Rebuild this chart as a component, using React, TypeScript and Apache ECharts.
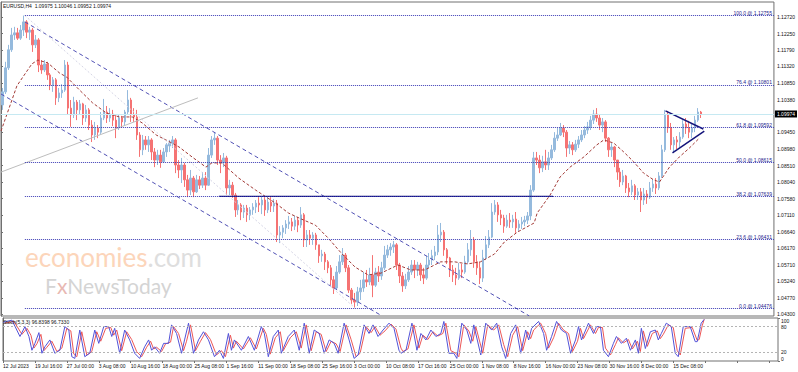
import React, { useEffect, useRef } from "react";
import * as echarts from "echarts";

const headerText = "EURUSD,H4  1.09975 1.10046 1.09952 1.09974";
const stochTitle = "Stoch(5,3,3) 96.8398 96.7330";

const candleOpen = [
  1.1023,1.1060,1.1128,1.1179,1.1221,1.1227,1.1212,1.1235,1.1258,1.1229,
  1.1235,1.1193,1.1207,1.1136,1.1122,1.1139,1.1108,1.1079,1.1094,1.1043,
  1.1057,1.1065,1.1136,1.1014,1.0995,1.1031,1.1009,1.1026,1.0986,1.1009,
  1.0966,1.0938,1.0958,1.0946,1.0986,1.1003,1.0986,1.0997,1.0980,1.0958,
  1.0986,1.0975,1.1003,1.1037,1.0995,1.0989,1.0938,1.0896,1.0924,1.0910,
  1.0924,1.0890,1.0867,1.0881,1.0862,1.0890,1.0907,1.0915,1.0924,1.0853,
  1.0839,1.0853,1.0811,1.0782,1.0816,1.0777,1.0811,1.0796,1.0816,1.0796,
  1.0881,1.0924,1.0929,1.0867,1.0859,1.0873,1.0788,1.0796,1.0768,1.0726,
  1.0740,1.0720,1.0731,1.0712,1.0726,1.0734,1.0745,1.0740,1.0754,1.0726,
  1.0748,1.0737,1.0745,1.0655,1.0663,1.0675,1.0686,1.0692,1.0680,1.0697,
  1.0683,1.0712,1.0641,1.0655,1.0646,1.0655,1.0627,1.0596,1.0601,1.0579,
  1.0562,1.0528,1.0505,1.0550,1.0579,1.0598,1.0562,1.0499,1.0471,1.0465,
  1.0494,1.0505,1.0528,1.0522,1.0542,1.0513,1.0550,1.0539,1.0562,1.0598,
  1.0613,1.0621,1.0627,1.0570,1.0539,1.0511,1.0528,1.0550,1.0570,1.0556,
  1.0570,1.0542,1.0533,1.0570,1.0584,1.0596,1.0607,1.0655,1.0663,1.0613,
  1.0590,1.0556,1.0542,1.0533,1.0556,1.0550,1.0579,1.0613,1.0641,1.0579,
  1.0562,1.0533,1.0590,1.0627,1.0649,1.0720,1.0740,1.0712,1.0703,1.0680,
  1.0697,1.0692,1.0700,1.0675,1.0686,1.0692,1.0697,1.0709,1.0782,1.0873,
  1.0867,1.0845,1.0862,1.0853,1.0873,1.0896,1.0929,1.0938,1.0958,1.0946,
  1.0901,1.0910,1.0896,1.0912,1.0924,1.0938,1.0952,1.0961,1.0980,1.0997,
  1.0986,1.0966,1.0975,1.0929,1.0896,1.0904,1.0867,1.0833,1.0805,1.0822,
  1.0788,1.0777,1.0794,1.0768,1.0777,1.0754,1.0771,1.0762,1.0788,1.0799,
  1.0788,1.0822,1.0896,1.0995,1.0958,1.0910,1.0924,1.0918,1.0932,1.0969,
  1.0958,1.0946,1.0958,1.0980,1.1003,
];

const candleClose = [
  1.1060,1.1128,1.1179,1.1221,1.1227,1.1212,1.1235,1.1258,1.1229,1.1235,
  1.1193,1.1207,1.1136,1.1122,1.1139,1.1108,1.1079,1.1094,1.1043,1.1057,
  1.1065,1.1136,1.1014,1.0995,1.1031,1.1009,1.1026,1.0986,1.1009,1.0966,
  1.0938,1.0958,1.0946,1.0986,1.1003,1.0986,1.0997,1.0980,1.0958,1.0986,
  1.0975,1.1003,1.1037,1.0995,1.0989,1.0938,1.0896,1.0924,1.0910,1.0924,
  1.0890,1.0867,1.0881,1.0862,1.0890,1.0910,1.0915,1.0924,1.0853,1.0839,
  1.0853,1.0811,1.0782,1.0816,1.0777,1.0811,1.0796,1.0816,1.0796,1.0881,
  1.0924,1.0929,1.0867,1.0859,1.0873,1.0788,1.0796,1.0768,1.0726,1.0740,
  1.0720,1.0731,1.0712,1.0726,1.0734,1.0745,1.0740,1.0754,1.0726,1.0748,
  1.0737,1.0745,1.0655,1.0663,1.0675,1.0686,1.0692,1.0680,1.0697,1.0683,
  1.0712,1.0641,1.0655,1.0646,1.0655,1.0627,1.0596,1.0601,1.0579,1.0562,
  1.0528,1.0505,1.0550,1.0579,1.0598,1.0562,1.0499,1.0471,1.0465,1.0494,
  1.0505,1.0528,1.0522,1.0542,1.0513,1.0550,1.0539,1.0562,1.0598,1.0613,
  1.0621,1.0627,1.0570,1.0539,1.0511,1.0528,1.0550,1.0570,1.0556,1.0570,
  1.0542,1.0533,1.0570,1.0584,1.0596,1.0607,1.0655,1.0663,1.0613,1.0590,
  1.0556,1.0542,1.0533,1.0556,1.0550,1.0579,1.0613,1.0641,1.0579,1.0562,
  1.0533,1.0590,1.0627,1.0649,1.0720,1.0740,1.0712,1.0703,1.0680,1.0697,
  1.0692,1.0700,1.0675,1.0686,1.0692,1.0697,1.0709,1.0782,1.0873,1.0867,
  1.0845,1.0862,1.0853,1.0873,1.0896,1.0929,1.0938,1.0958,1.0946,1.0901,
  1.0910,1.0896,1.0912,1.0924,1.0938,1.0952,1.0961,1.0980,1.0997,1.0986,
  1.0966,1.0975,1.0929,1.0896,1.0904,1.0867,1.0833,1.0805,1.0822,1.0788,
  1.0777,1.0794,1.0768,1.0777,1.0754,1.0771,1.0762,1.0788,1.0799,1.0788,
  1.0822,1.0896,1.0995,1.0958,1.0910,1.0924,1.0918,1.0932,1.0969,1.0958,
  1.0946,1.0958,1.0980,1.1003,1.09974,
];

const candleLow = [
  1.1009,1.1054,1.1122,1.1173,1.1207,1.1207,1.1207,1.1218,1.1212,1.1207,
  1.1173,1.1184,1.1116,1.1111,1.1116,1.1094,1.1065,1.1060,1.1023,1.1031,
  1.1043,1.1060,1.0995,1.0961,1.0986,1.0980,1.0995,1.0966,1.0975,1.0952,
  1.0918,1.0924,1.0929,1.0941,1.0980,1.0972,1.0975,1.0963,1.0929,1.0952,
  1.0958,1.0966,1.0997,1.0975,1.0975,1.0924,1.0876,1.0881,1.0896,1.0890,
  1.0867,1.0847,1.0853,1.0845,1.0859,1.0876,1.0890,1.0901,1.0830,1.0816,
  1.0802,1.0791,1.0762,1.0768,1.0762,1.0774,1.0785,1.0788,1.0782,1.0794,
  1.0873,1.0910,1.0853,1.0830,1.0847,1.0768,1.0768,1.0760,1.0706,1.0712,
  1.0697,1.0703,1.0692,1.0697,1.0712,1.0717,1.0720,1.0714,1.0709,1.0717,
  1.0720,1.0720,1.0635,1.0632,1.0646,1.0658,1.0672,1.0666,1.0669,1.0663,
  1.0675,1.0621,1.0621,1.0627,1.0627,1.0613,1.0576,1.0579,1.0556,1.0547,
  1.0513,1.0488,1.0499,1.0545,1.0570,1.0550,1.0491,1.0460,1.0448,1.0454,
  1.0471,1.0494,1.0508,1.0513,1.0479,1.0508,1.0522,1.0528,1.0556,1.0590,
  1.0596,1.0604,1.0556,1.0519,1.0494,1.0502,1.0522,1.0542,1.0533,1.0539,
  1.0525,1.0516,1.0528,1.0562,1.0570,1.0584,1.0598,1.0635,1.0596,1.0573,
  1.0536,1.0522,1.0513,1.0528,1.0533,1.0545,1.0573,1.0596,1.0562,1.0542,
  1.0516,1.0522,1.0584,1.0618,1.0646,1.0712,1.0692,1.0683,1.0661,1.0675,
  1.0675,1.0675,1.0661,1.0666,1.0672,1.0680,1.0686,1.0697,1.0777,1.0853,
  1.0830,1.0833,1.0839,1.0839,1.0867,1.0890,1.0921,1.0935,1.0932,1.0876,
  1.0884,1.0881,1.0890,1.0901,1.0918,1.0929,1.0941,1.0952,1.0969,1.0975,
  1.0952,1.0946,1.0918,1.0876,1.0876,1.0847,1.0811,1.0791,1.0796,1.0774,
  1.0762,1.0768,1.0754,1.0754,1.0720,1.0740,1.0743,1.0757,1.0777,1.0771,
  1.0782,1.0816,1.0890,1.0944,1.0896,1.0887,1.0898,1.0904,1.0927,1.0941,
  1.0929,1.0929,1.0946,1.0975,1.0986,
];

const candleHigh = [
  1.1071,1.1145,1.1193,1.1241,1.1244,1.1241,1.1249,1.1276,1.1263,1.1244,
  1.1241,1.1221,1.1212,1.1150,1.1150,1.1145,1.1113,1.1102,1.1099,1.1071,
  1.1082,1.1150,1.1145,1.1037,1.1046,1.1037,1.1037,1.1029,1.1023,1.1014,
  1.0980,1.0975,1.0966,1.1003,1.1040,1.1020,1.1014,1.1009,1.0995,1.0995,
  1.0992,1.1009,1.1065,1.1043,1.1014,1.1009,1.0946,1.0938,1.0935,1.0935,
  1.0929,1.0901,1.0896,1.0896,1.0901,1.0915,1.0924,1.0935,1.0929,1.0867,
  1.0873,1.0859,1.0825,1.0839,1.0822,1.0825,1.0822,1.0833,1.0833,1.0901,
  1.0935,1.0944,1.0935,1.0881,1.0887,1.0879,1.0811,1.0805,1.0774,1.0754,
  1.0745,1.0740,1.0740,1.0734,1.0745,1.0754,1.0762,1.0765,1.0762,1.0765,
  1.0762,1.0757,1.0754,1.0680,1.0683,1.0697,1.0709,1.0703,1.0709,1.0706,
  1.0734,1.0717,1.0669,1.0669,1.0663,1.0661,1.0627,1.0613,1.0607,1.0584,
  1.0570,1.0539,1.0567,1.0598,1.0618,1.0604,1.0570,1.0505,1.0491,1.0508,
  1.0528,1.0550,1.0556,1.0562,1.0598,1.0562,1.0567,1.0579,1.0624,1.0627,
  1.0632,1.0638,1.0632,1.0576,1.0550,1.0545,1.0567,1.0584,1.0584,1.0579,
  1.0576,1.0562,1.0596,1.0604,1.0613,1.0624,1.0683,1.0689,1.0669,1.0618,
  1.0593,1.0570,1.0562,1.0576,1.0573,1.0596,1.0632,1.0669,1.0649,1.0598,
  1.0579,1.0613,1.0652,1.0669,1.0745,1.0754,1.0748,1.0726,1.0712,1.0712,
  1.0717,1.0712,1.0720,1.0697,1.0706,1.0709,1.0720,1.0796,1.0890,1.0890,
  1.0881,1.0879,1.0896,1.0890,1.0910,1.0946,1.0958,1.0972,1.0966,1.0952,
  1.0921,1.0918,1.0924,1.0935,1.0952,1.0963,1.0975,1.0992,1.1009,1.1014,
  1.0997,1.0986,1.0980,1.0932,1.0915,1.0907,1.0867,1.0845,1.0839,1.0825,
  1.0802,1.0811,1.0799,1.0788,1.0788,1.0788,1.0782,1.0805,1.0813,1.0816,
  1.0833,1.0910,1.1009,1.1006,1.0972,1.0932,1.0935,1.0946,1.0980,1.0986,
  1.0978,1.0969,1.0992,1.1014,1.1006,
];

// moving average, [H4 bar index, price]
const maPoints = [
  [0,1.0949],[10,1.1029],[16,1.1077],[22,1.1102],[31,1.1139],[37,1.1150],[47,1.1142],
  [59,1.1113],[66,1.1102],[79,1.1065],[92,1.1029],[106,1.1000],[119,1.0989],[132,1.0989],
  [142,1.0972],[156,1.0938],[172,1.0915],[179,1.0904],[192,1.0876],[206,1.0847],[212,1.0859],
  [222,1.0859],[239,1.0816],[256,1.0782],[276,1.0745],[289,1.0717],[302,1.0700],[316,1.0683],
  [329,1.0646],[342,1.0604],[356,1.0564],[369,1.0542],[382,1.0547],[399,1.0570],[412,1.0556],
  [426,1.0556],[442,1.0579],[456,1.0579],[469,1.0573],[482,1.0579],[496,1.0601],[506,1.0635],
  [519,1.0663],[536,1.0689],[539,1.0717],[552,1.0768],[562,1.0819],[572,1.0847],[586,1.0876],
  [599,1.0910],[606,1.0924],[616,1.0915],[626,1.0890],[636,1.0862],[646,1.0830],[656,1.0811],
  [662,1.0805],[672,1.0847],[682,1.0876],[692,1.0901],[702,1.0929],
];

// chart objects, [H4 bar index, price]
const channelUpper = [[24,1.1258],[531,1.0426]];
const channelLower = [[0,1.1054],[383,1.0426]];
const fibTrendLine = [[24,1.1276],[356,1.0448]];
const grayTrendLine = [[0,1.0833],[198,1.1043]];
const supportLine = [[219,1.0764],[555,1.0764]];
const triangleUpper = [[668,1.1006],[706,1.0955]];
const triangleLower = [[675,1.0887],[707,1.0949]];

const fibStartBar = 24;
const fibRatios = ["100.0","76.4","61.8","50.0","38.2","23.6","0.0"];
const fibPrices = [1.12755,1.10801,1.09592,1.08615,1.07639,1.06431,1.04476];
const lastPrice = 1.09974;

const priceTicks = [1.1272,1.1225,1.1179,1.1132,1.1085,1.1038,1.0945,1.0898,1.0851,1.0804,1.0758,1.0711,1.0664,1.0617,1.0571,1.0524,1.0477,1.043];
const stochTopTick = [100];
const stochMidTicks = [80,20];
const stochBottomTick = [0];
const stochLevels = [80,20];
const dateLabels = ["12 Jul 2023","19 Jul 16:00","27 Jul 00:00","3 Aug 08:00","10 Aug 16:00","18 Aug 00:00","25 Aug 08:00","1 Sep 16:00","11 Sep 00:00","18 Sep 08:00","25 Sep 16:00","3 Oct 00:00","10 Oct 08:00","17 Oct 16:00","25 Oct 00:00","1 Nov 08:00","8 Nov 16:00","16 Nov 00:00","23 Nov 08:00","30 Nov 16:00","8 Dec 00:00","15 Dec 08:00"];

const stochMain = [
  [0,90],[9,95],[17,57],[22,80],[26,57],[29,25],[32,41],[36,66],[39,18],[42,33],[47,49],[52,18],[57,25],[62,80],[66,72],[69,10],[72,6],[77,72],[82,10],[87,18],[92,72],[96,41],[101,80],[106,80],[109,57],[112,76],[117,18],[122,72],[127,49],[132,18],[137,6],[142,33],[146,49],[149,25],[152,33],[157,18],[161,41],[166,41],[169,84],[174,64],[179,18],[182,49],[186,88],[191,18],[196,49],[201,68],[206,49],[212,10],[217,25],[221,6],[226,64],[229,25],[232,49],[239,25],[246,57],[252,25],[259,80],[262,64],[266,10],[271,57],[276,72],[279,18],[286,57],[292,72],[297,25],[302,88],[307,18],[312,72],[317,64],[322,18],[327,49],[332,41],[336,18],[342,88],[347,49],[352,6],[356,14],[362,84],[367,64],[371,84],[376,57],[381,72],[387,88],[392,76],[397,25],[399,18],[404,25],[410,88],[415,25],[419,64],[424,49],[429,72],[434,57],[439,64],[442,92],[447,18],[452,18],[455,6],[460,88],[465,72],[469,41],[472,84],[479,14],[484,88],[490,72],[495,88],[500,33],[504,6],[509,64],[514,84],[519,18],[524,72],[527,49],[530,76],[537,92],[542,64],[545,25],[550,57],[555,92],[560,72],[565,64],[569,18],[574,49],[577,80],[580,49],[587,88],[592,64],[595,80],[599,80],[602,25],[607,10],[612,41],[615,57],[620,41],[625,53],[629,25],[634,49],[637,18],[640,76],[644,29],[649,68],[654,72],[657,49],[660,64],[665,88],[670,80],[674,18],[677,10],[682,80],[689,80],[694,45],[696,45],[700,88],[703,96.84],
];
const stochSignal = [
  [2,88],[11,92],[19,62],[24,76],[28,60],[31,30],[34,40],[38,62],[41,24],[44,32],[49,46],[54,22],[59,30],[64,76],[68,70],[71,16],[74,10],[79,68],[84,14],[89,22],[94,68],[98,46],[103,76],[108,78],[111,60],[114,72],[119,24],[124,68],[129,50],[134,22],[139,10],[144,32],[148,46],[151,28],[154,32],[159,22],[163,40],[168,44],[171,80],[176,64],[181,24],[184,46],[188,84],[193,24],[198,46],[203,66],[208,50],[214,14],[219,24],[223,10],[228,60],[231,30],[234,46],[241,28],[248,54],[254,28],[261,76],[264,62],[268,16],[273,54],[278,68],[281,24],[288,54],[294,68],[299,30],[304,84],[309,24],[314,68],[319,62],[324,22],[329,46],[334,40],[338,22],[344,84],[349,50],[354,10],[358,18],[364,80],[369,66],[373,80],[378,60],[383,70],[389,86],[394,74],[399,30],[401,22],[406,28],[412,84],[417,30],[421,60],[426,50],[431,68],[436,58],[441,64],[444,88],[449,24],[454,18],[457,10],[462,84],[467,70],[471,46],[474,80],[481,18],[486,84],[492,72],[497,84],[502,38],[506,10],[511,60],[516,80],[521,24],[526,68],[529,52],[532,72],[539,88],[544,64],[547,30],[552,54],[557,88],[562,72],[567,64],[571,22],[576,46],[579,76],[582,52],[589,84],[594,64],[597,78],[601,78],[604,30],[609,14],[614,38],[617,54],[622,42],[627,50],[631,28],[636,46],[639,22],[642,70],[646,34],[651,64],[656,70],[659,52],[662,62],[667,84],[672,78],[676,24],[679,14],[684,76],[691,78],[696,48],[698,50],[701,82],[703,96.73],
];

const watermarkTop = ["economies", ".com"];
const watermarkBottom = ["F", "x", "NewsToday"];

const FONT = "'Liberation Sans', Arial, sans-serif";
const BAR_SPAN = 777; // H4 bars across the plot
const SLOT_COUNT = 259; // candle slots (3 H4 bars each)
const Y_MIN = 1.04257;
const Y_MAX = 1.13143;

export default function App() {
  const ref = useRef<HTMLDivElement>(null);
  useEffect(() => {
    if (!ref.current) return;
    const chart = echarts.init(ref.current, null, { renderer: "svg" });
    const slots = Array.from({ length: SLOT_COUNT }, (_, i) => String(i));
    const candles = candleOpen.map((o, i) => [o, candleClose[i], candleLow[i], candleHigh[i]]);
    const seg = (data: number[][], color: string, width: number, type: any, z = 4) => ({
      type: "line", xAxisIndex: 1, yAxisIndex: 0, data, symbol: "none", silent: true,
      lineStyle: { color, width, type }, z,
    });
    const small = { fontSize: 5, color: "#111", fontFamily: FONT };
    const stochAxis = (ticks: number[], vAlign: string, showLine: boolean) => ({
      type: "value", gridIndex: 1, position: "right", min: 0, max: 100,
      splitLine: { show: false },
      axisLine: { show: showLine, lineStyle: { color: "#707070" } },
      axisTick: { show: true, length: 2, customValues: ticks, lineStyle: { color: "#707070" } },
      axisLabel: { ...small, margin: 3, customValues: ticks, verticalAlign: vAlign },
    });
    const option: any = {
      animation: false,
      backgroundColor: "#ffffff",
      textStyle: { fontFamily: FONT },
      title: [
        { text: headerText, left: 3, top: 3, padding: 0, textStyle: { ...small, fontWeight: "normal" } },
        { text: stochTitle, left: 3, top: 319.5, padding: 0, textStyle: { ...small, fontWeight: "normal" } },
      ],
      graphic: [
        {
          type: "text", x: 25, y: 257, z: 0, silent: true,
          style: {
            text: `{a|${watermarkTop[0]}}{b|${watermarkTop[1]}}`,
            verticalAlign: "middle",
            rich: {
              a: { fill: "#fcd5ba", fontSize: 26, lineHeight: 18, fontFamily: "Lato" },
              b: { fill: "#dedede", fontSize: 26, lineHeight: 18, fontFamily: "Lato" },
            },
          },
        },
        {
          type: "text", x: 45, y: 285, z: 0, silent: true,
          style: {
            text: `{f|${watermarkBottom[0]}}{x|${watermarkBottom[1]}}{n|${watermarkBottom[2]}}`,
            verticalAlign: "middle",
            rich: {
              f: { fill: "#d4d4d4", fontSize: 21, lineHeight: 16, fontFamily: "Lato" },
              x: { fill: "#e8b8b2", fontSize: 21, lineHeight: 16, fontFamily: "Lato" },
              n: { fill: "#d4d4d4", fontSize: 21, lineHeight: 16, fontFamily: "Lato" },
            },
          },
        },
      ],
      grid: [
        { left: 1, top: 2, width: 777, height: 314, show: true, borderColor: "#707070", borderWidth: 1 },
        { left: 1, top: 318, width: 777, height: 43, show: true, borderColor: "#707070", borderWidth: 1 },
      ],
      xAxis: [
        { type: "category", gridIndex: 0, data: slots, boundaryGap: true, show: false },
        { type: "value", gridIndex: 0, min: 0, max: BAR_SPAN, show: false },
        {
          type: "value", gridIndex: 1, min: 0, max: BAR_SPAN, interval: 32,
          axisLine: { show: false },
          axisTick: { show: true, length: 2, lineStyle: { color: "#707070" } },
          splitLine: { show: false },
          axisLabel: {
            ...small, align: "left", margin: 2, showMaxLabel: false,
            formatter: (v: number) => dateLabels[Math.round(v / 32)] ?? "",
          },
        },
      ],
      yAxis: [
        {
          type: "value", gridIndex: 0, position: "right", min: Y_MIN, max: Y_MAX,
          splitLine: { show: false },
          axisLine: { show: true, lineStyle: { color: "#707070" } },
          axisTick: { show: true, length: 2, customValues: priceTicks, lineStyle: { color: "#707070" } },
          axisLabel: { ...small, margin: 3, customValues: priceTicks, formatter: (v: number) => v.toFixed(5) },
        },
        stochAxis(stochMidTicks, "middle", true),
        stochAxis(stochTopTick, "top", false),
        stochAxis(stochBottomTick, "bottom", false),
      ],
      series: [
        {
          type: "candlestick", xAxisIndex: 0, yAxisIndex: 0, data: candles, barWidth: 2, silent: true, z: 3,
          itemStyle: { color: "#95badd", color0: "#f57373", borderColor: "#95badd", borderColor0: "#f57373", borderWidth: 1 },
        },
        {
          type: "line", xAxisIndex: 1, yAxisIndex: 0, data: maPoints, symbol: "none", silent: true, z: 4,
          lineStyle: { color: "#a23a36", width: 1, type: [3, 2] },
          markLine: {
            silent: true, symbol: ["none", "none"], animation: false,
            data: [
              ...fibPrices.map((p, k) => [
                {
                  coord: [fibStartBar, p],
                  lineStyle: { color: "#3a3ab4", width: 1, type: [1, 1] },
                  label: {
                    show: true, position: "insideEndTop", distance: [2, 0],
                    formatter: `${fibRatios[k]} @ ${p.toFixed(5)}`,
                    fontSize: 5, color: "#1c1c8c", fontFamily: FONT,
                  },
                },
                { coord: [BAR_SPAN, p] },
              ]),
              [
                {
                  coord: [0, lastPrice],
                  lineStyle: { color: "#c6e9f2", width: 1, type: "solid" },
                  label: {
                    show: true, position: "end", distance: 1, formatter: lastPrice.toFixed(5),
                    backgroundColor: "#000", color: "#fff", fontSize: 5, padding: [1, 2], fontFamily: FONT,
                  },
                },
                { coord: [BAR_SPAN, lastPrice] },
              ],
            ],
          },
        },
        seg(channelUpper, "#5050b4", 1, [4, 3]),
        seg(channelLower, "#5050b4", 1, [4, 3]),
        seg(fibTrendLine, "#d4d4e4", 1, [2, 2]),
        seg(grayTrendLine, "#bdbdbd", 1, "solid"),
        seg(supportLine, "#14147a", 1.3, "solid"),
        seg(triangleUpper, "#14147a", 1.5, "solid"),
        seg(triangleLower, "#14147a", 1.5, "solid"),
        {
          type: "line", xAxisIndex: 2, yAxisIndex: 1, data: stochSignal, symbol: "none", silent: true,
          lineStyle: { color: "#ec5656", width: 1 },
          markLine: {
            silent: true, symbol: ["none", "none"], label: { show: false },
            lineStyle: { color: "#b4b4b4", width: 1, type: [2, 2] },
            data: stochLevels.map((v) => ({ yAxis: v })),
          },
        },
        {
          type: "line", xAxisIndex: 2, yAxisIndex: 1, data: stochMain, symbol: "none", silent: true,
          lineStyle: { color: "#5252d8", width: 1 },
        },
      ],
    };
    chart.setOption(option);
    return () => chart.dispose();
  }, []);
  return (
    <div
      ref={ref}
      style={{ position: "absolute", left: 0, top: 0, width: 798, height: 372, background: "#fff" }}
    />
  );
}
